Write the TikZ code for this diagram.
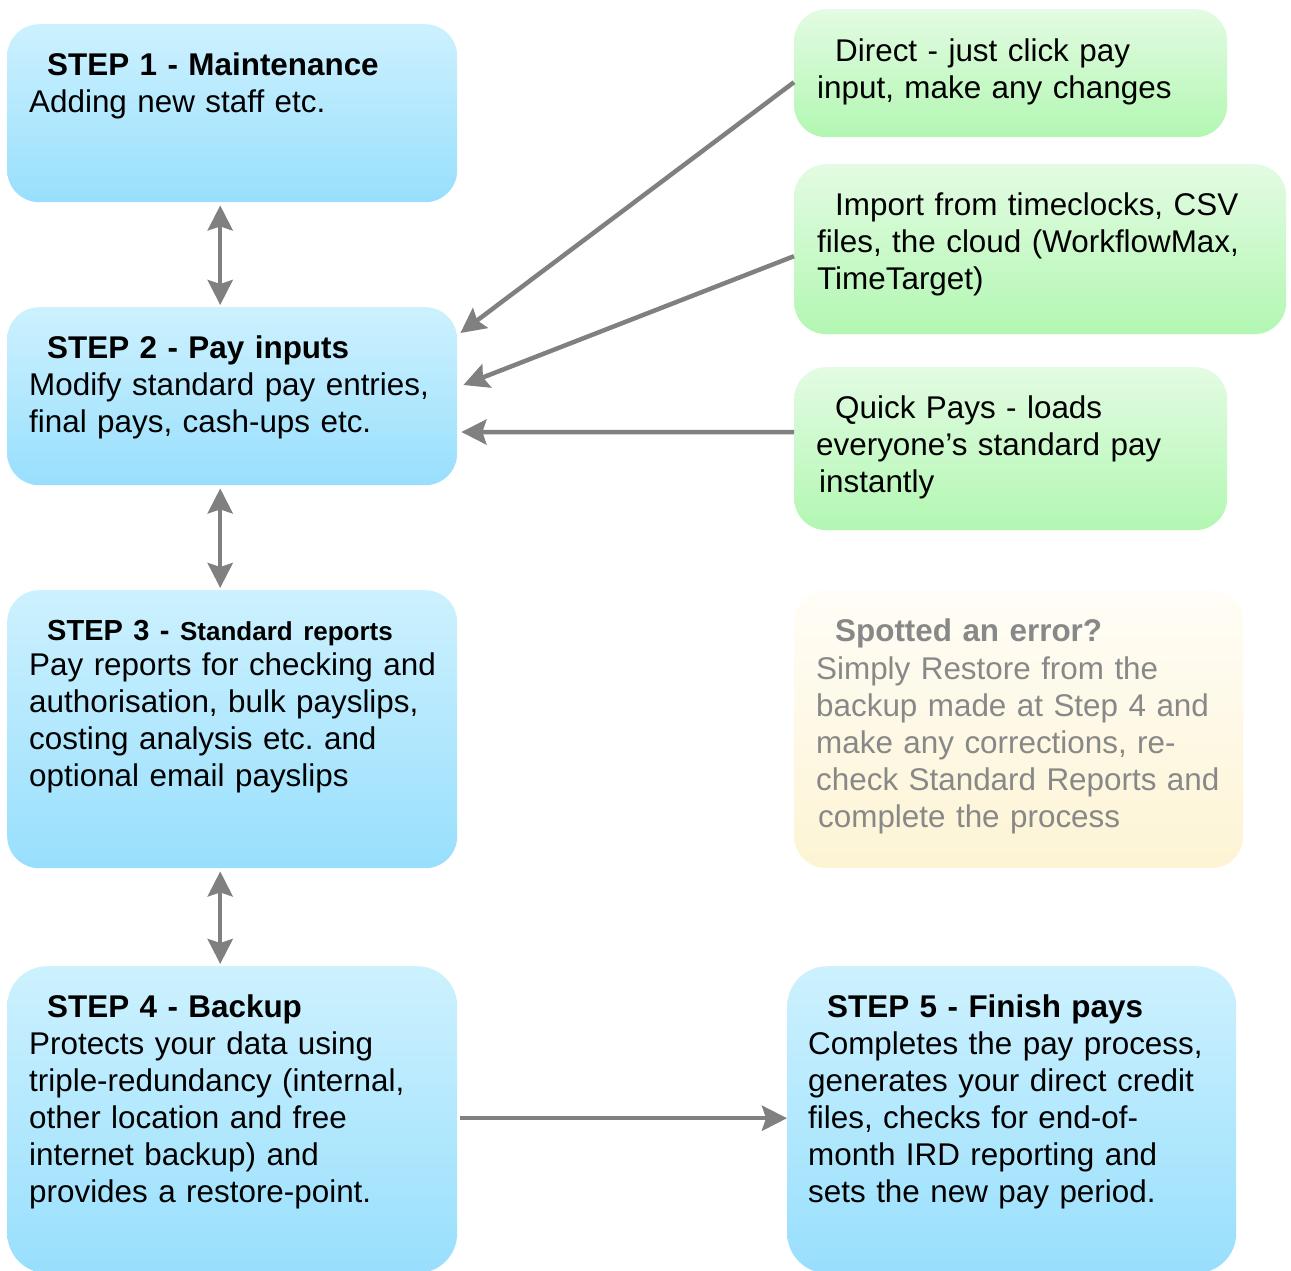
\documentclass[tikz,border=0pt]{standalone}
\usepackage{fontspec}
\setmainfont{Liberation Sans}
\usetikzlibrary{arrows.meta,calc}
\definecolor{bluetop}{HTML}{CDF1FE}
\definecolor{bluebot}{HTML}{98DFFD}
\definecolor{greentop}{HTML}{E3FBE3}
\definecolor{greenbot}{HTML}{B2F7B2}
\definecolor{yeltop}{HTML}{FFFDF7}
\definecolor{yelbot}{HTML}{FDF4D4}
\definecolor{arrowgray}{HTML}{808080}
\definecolor{softgray}{HTML}{888888}
\frenchspacing
\begin{document}
\begin{tikzpicture}[x=1pt,y=-1pt,
  boxbase/.style={rectangle, rounded corners=32pt, anchor=north west, inner sep=0pt, draw=none},
  bluebox/.style={boxbase, top color=bluetop, bottom color=bluebot},
  greenbox/.style={boxbase, top color=greentop, bottom color=greenbot},
  yelbox/.style={boxbase, top color=yeltop, bottom color=yelbot},
  txt/.style={anchor=base west, inner sep=0pt, text width=480pt, align=left, font=\fontsize{31.4}{37}\selectfont},
  conn/.style={draw=arrowgray, line width=4.5pt, -{Stealth[length=25pt,width=25pt,inset=4pt]}},
  biconn/.style={draw=arrowgray, line width=4.5pt, {Stealth[length=25pt,width=25pt,inset=4pt]}-{Stealth[length=25pt,width=25pt,inset=4pt]}, shorten <=3pt, shorten >=2pt}
]
\path[use as bounding box] (0,0) rectangle (1291,1270);
\clip (0,0) rectangle (1291,1270);

% left column
\node[bluebox, minimum width=450pt, minimum height=178pt] (b1) at (7,24) {};
\node[bluebox, minimum width=450pt, minimum height=178pt] (b2) at (7,307) {};
\node[bluebox, minimum width=450pt, minimum height=278pt] (b3) at (7,590) {};
\node[bluebox, rounded corners=40pt, minimum width=450pt, minimum height=307pt] (b4) at (7,966) {};

% right column
\node[greenbox, minimum width=433pt, minimum height=128pt] (g1) at (794,9) {};
\node[greenbox, minimum width=492pt, minimum height=170pt] (g2) at (794,164) {};
\node[greenbox, minimum width=433pt, minimum height=163pt] (g3) at (794,367) {};
\node[yelbox, minimum width=449pt, minimum height=278pt] (y1) at (794,590) {};
\node[bluebox, rounded corners=40pt, minimum width=449pt, minimum height=307pt] (b5) at (787,966) {};

% texts
\node[txt] (t1) at ($(b1.north west)+(22,51)$) {\hspace*{18pt}\textbf{STEP 1 - Maintenance}\\Adding new staff etc.};
\node[txt] (t2) at ($(b2.north west)+(22,51)$) {\hspace*{18pt}\textbf{STEP 2 - Pay inputs}\\Modify standard pay entries,\\final pays, cash-ups etc.};
\node[txt] (t3) at ($(b3.north west)+(22,50)$) {\hspace*{18pt}\textbf{{\fontsize{29}{37}\selectfont STEP 3 -} {\fontsize{26}{37}\selectfont Standard reports}}\\[-2pt]Pay reports for checking and\\authorisation, bulk payslips,\\costing analysis etc. and\\optional email payslips};
\node[txt] (t4) at ($(b4.north west)+(22,51.5)$) {\hspace*{18pt}\textbf{STEP 4 - Backup}\\Protects your data using\\triple-redundancy (internal,\\other location and free\\internet backup) and\\provides a restore-point.};
\node[txt] (t5) at ($(b5.north west)+(21,51.5)$) {\hspace*{19pt}\textbf{STEP 5 - Finish pays}\\Completes the pay process,\\generates your direct credit\\files, checks for end-of-\\month IRD reporting and\\sets the new pay period.};
\node[txt] (tg1) at ($(g1.north west)+(23,52)$) {\hspace*{18pt}Direct - just click pay\\input, make any changes};
\node[txt] (tg2) at ($(g2.north west)+(23,51)$) {\hspace*{18pt}Import from timeclocks, CSV\\files, the cloud (WorkflowMax,\\TimeTarget)};
\node[txt] (tg3) at ($(g3.north west)+(22,51)$) {\hspace*{19pt}Quick Pays - loads\\everyone’s standard pay\\\hspace*{3pt}instantly};
\node[txt, text=softgray] (ty1) at ($(y1.north west)+(22,51)$) {\hspace*{19pt}\textbf{Spotted an error?}\\[1pt]Simply Restore from the\\backup made at Step 4 and\\make any corrections, re-\\check Standard Reports and\\\hspace*{2pt}complete the process};

% vertical double arrows
\draw[biconn] ([xshift=-12pt]b1.south) -- ([xshift=-12pt]b2.north);
\draw[biconn] ([xshift=-12pt]b2.south) -- ([xshift=-12pt]b3.north);
\draw[biconn] ([xshift=-12pt]b3.south) -- ([xshift=-12pt]b4.north);

% inputs into step 2
\draw[conn] ($(g1.west)+(0,9)$) -- ($(b2.north east)+(3,26)$);
\draw[conn] ($(g2.west)+(0,7)$) -- ($(b2.north east)+(6,78)$);
\draw[conn] ($(g3.west)+(0,-16.5)$) -- ($(b2.north east)+(4,125)$);

% step 4 to step 5
\draw[conn] ($(b4.east)+(3,-1.5)$) -- ($(b5.west)+(0,-1.5)$);
\end{tikzpicture}
\end{document}
